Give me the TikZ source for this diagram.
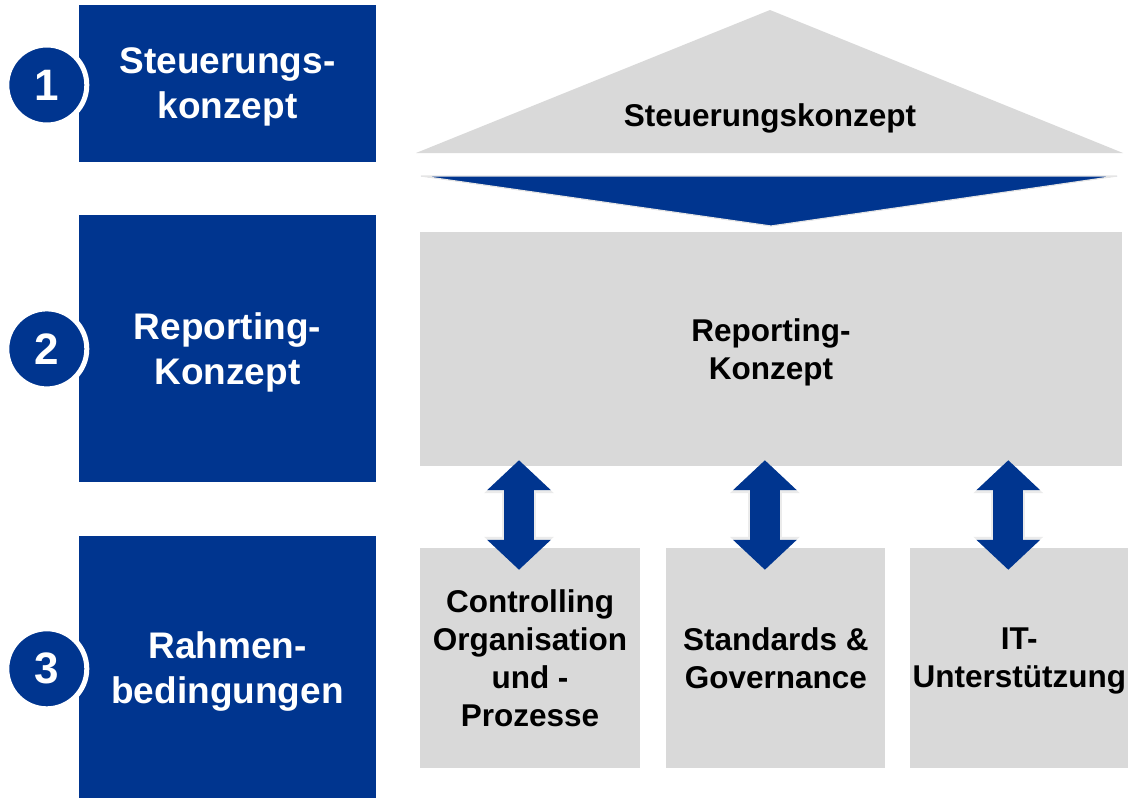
\documentclass[tikz,border=0pt]{standalone}
\usepackage{fontspec}
\setmainfont{Liberation Sans}
\usetikzlibrary{positioning,arrows.meta}
\definecolor{dunkelblau}{RGB}{0,53,143}
\definecolor{hellgrau}{RGB}{217,217,217}

\begin{document}
\begin{tikzpicture}[x=1pt, y=-1pt]
\tikzset{
    % blue boxes on the left
    stufe/.style={
           rectangle,
           fill=dunkelblau,
           text=white,
           minimum width=297pt,
           inner sep=0pt,
           text depth=-2pt,
           align=center,
           font=\fontsize{37}{45}\selectfont\bfseries},
    % numbered circles
    nummer/.style={
           circle,
           fill=dunkelblau,
           draw=white, line width=5pt,
           minimum size=80pt,
           inner sep=0pt,
           text=white,
           font=\fontsize{44}{44}\selectfont\bfseries},
    % grey boxes
    feld/.style={
           rectangle,
           fill=hellgrau,
           inner sep=0pt,
           text depth=-1pt,
           align=center,
           font=\fontsize{31.5}{38}\selectfont\bfseries},
    % block arrows and their light rim
    pfeil/.style={
           {Triangle[width=62pt,length=30pt]}-{Triangle[width=62pt,length=30pt]},
           line width=30pt,
           dunkelblau},
    pfeilrand/.style={
           {Triangle[width=68pt,length=33pt]}-{Triangle[width=68pt,length=33pt]},
           line width=34pt,
           white!92!black}
}
\useasboundingbox (0,0) rectangle (1128,798);

 %left column
 \node[stufe, minimum height=157pt] (s1) at (227.5,83.5) {Steuerungs-\\konzept};
 \node[stufe, minimum height=267pt, below=53pt of s1] (s2) {Reporting-\\Konzept};
 \node[stufe, minimum height=263pt, below=53pt of s2] (s3) {Rahmen-\\bedingungen};
 \node[nummer] (n1) at ([xshift=-32pt,yshift=-1.5pt]s1.west) {1};
 \node[nummer] (n2) at ([xshift=-32pt]s2.west) {2};
 \node[nummer] (n3) at ([xshift=-32pt,yshift=-1.5pt]s3.west) {3};

 %roof and chevron
 \fill[hellgrau] (416,153) -- (770,10) -- (1123,153) -- cycle;
 \node[font=\fontsize{31.5}{38}\selectfont\bfseries] (dach) at (770,118) {Steuerungskonzept};
 \filldraw[fill=dunkelblau, draw=white!90!black, line width=1.2pt]
   (421,176) -- (1117,176) -- (771,226) -- cycle;

 %grey boxes
 \node[feld, minimum width=702pt, minimum height=234pt] (rep) at (771,349) {Reporting-\\Konzept};
 \node[feld, minimum width=220pt, minimum height=220pt] (ca) at (530,658)
   {Controlling\\Organisation\\und -\\Prozesse};
 \node[feld, minimum width=219pt, minimum height=220pt, right=26pt of ca] (cb)
   {Standards \&\\Governance};
 \node[feld, minimum width=219pt, minimum height=220pt, right=24pt of cb] (cc)
   {IT-\\Unterstützung};

 %arrows between the boxes
 \foreach \k in {ca,cb,cc}{
   \draw[pfeilrand, shorten <=-22pt, shorten >=-6pt]
     ([xshift=-11pt]\k.north) -- ([xshift=-11pt]\k.north |- rep.south);
   \draw[pfeil, shorten <=-22pt, shorten >=-6pt]
     ([xshift=-11pt]\k.north) -- ([xshift=-11pt]\k.north |- rep.south);
 }
\end{tikzpicture}
\end{document}
